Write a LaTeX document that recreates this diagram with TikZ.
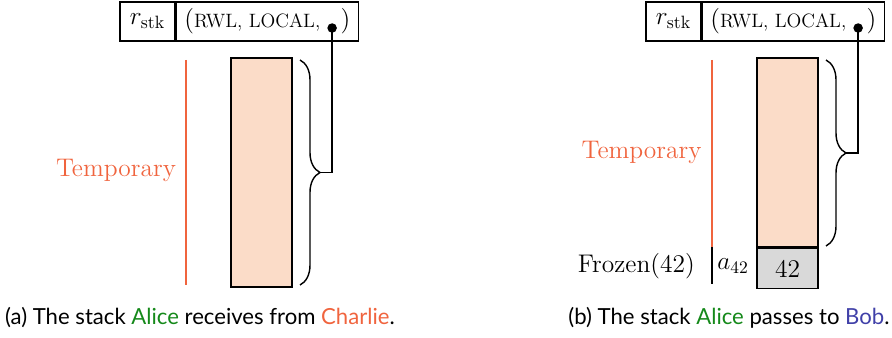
\documentclass[tikz,border=0pt]{standalone}
\usepackage{fontspec}
\newfontfamily\capfont{Lato}
\usepackage{xcolor}
\usepackage{tikz}
\usetikzlibrary{
  arrows.meta,
  positioning,
  decorations.pathreplacing,
  calc
}
\definecolor{tempcolor}{HTML}{F0643E}
\definecolor{tempfill}{HTML}{FBDCC8}
\definecolor{frozenfill}{HTML}{D9D9D9}
\definecolor{alicecolor}{HTML}{15891A}
\definecolor{bobcolor}{HTML}{4040A8}
\newcommand{\mysc}[1]{{\fontsize{11}{14}\selectfont #1}}

\begin{document}
\begin{tikzpicture}[
  cell/.style={draw, thick, inner sep=0pt, minimum height=0.78cm, font=\fontsize{14.5}{17}\selectfont},
  frame/.style={draw, thick, inner sep=0pt},
  lbl/.style={font=\fontsize{14.5}{17}\selectfont},
  captext/.style={font=\capfont\fontsize{12.6}{15}\selectfont},
  bracedec/.style={thick, decorate, decoration={brace, amplitude=0.4cm}},
  dot/.style={circle, fill, inner sep=0pt, minimum size=0.19cm},
]
  \useasboundingbox (0,0) rectangle (17.84,-6.76);

  % Left: register and stack
  \node[cell, minimum width=1.1cm] (regA) at (2.95,-0.43) {$r_{\mathrm{stk}}$};
  \node[cell, minimum width=3.64cm, anchor=west] (tupA) at (regA.east) {(\mysc{RWL, LOCAL,}\hspace{0.8em})};
  \node[dot] (dotA) at ([xshift=-0.54cm,yshift=-0.13cm]tupA.east) {};
  \node[frame, fill=tempfill, minimum width=1.22cm, minimum height=4.58cm] (stkA) at (5.23,-3.45) {};
  \draw[bracedec] (6.0,-1.2) -- (6.0,-5.7);
  \coordinate (tipA) at (6.4,-3.45);
  \draw[thick] (dotA.center) |- (tipA);
  \draw[tempcolor, thick] (3.72,-1.2) -- (3.72,-5.7);
  \node[lbl, text=tempcolor] (tmpA) at (2.32,-3.4) {Temporary};
  \node[captext] (capA) at (4.0,-6.36) {(a) The stack \textcolor{alicecolor}{Alice} receives from \textcolor{tempcolor}{Charlie}.};

  % Right: register, stack and frozen frame
  \node[cell, minimum width=1.1cm] (regB) at (13.47,-0.43) {$r_{\mathrm{stk}}$};
  \node[cell, minimum width=3.64cm, anchor=west] (tupB) at (regB.east) {(\mysc{RWL, LOCAL,}\hspace{0.8em})};
  \node[dot] (dotB) at ([xshift=-0.54cm,yshift=-0.13cm]tupB.east) {};
  \node[frame, fill=tempfill, minimum width=1.22cm, minimum height=3.78cm] (stkB) at (15.75,-3.05) {};
  \node[frame, fill=frozenfill, minimum width=1.22cm, minimum height=0.8cm, anchor=north, lbl] (frzB) at (stkB.south) {42};
  \draw[bracedec] (16.52,-1.2) -- (16.52,-4.92);
  \coordinate (tipB) at (16.92,-3.06);
  \draw[thick] (dotB.center) |- (tipB);
  \draw[tempcolor, thick] (14.24,-1.2) -- (14.24,-4.94);
  \draw[thick] (14.24,-4.94) -- (14.24,-5.68);
  \node[lbl, text=tempcolor] (tmpB) at (12.83,-3.04) {Temporary};
  \node[lbl, anchor=east] (frzL) at (14.02,-5.32) {Frozen(42)};
  \node[lbl] (addr) at (14.66,-5.32) {$a_{42}$};
  \node[captext] (capB) at (14.58,-6.36) {(b) The stack \textcolor{alicecolor}{Alice} passes to \textcolor{bobcolor}{Bob}.};
\end{tikzpicture}
\end{document}
